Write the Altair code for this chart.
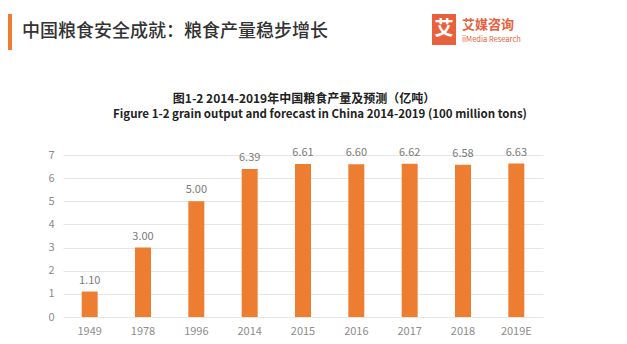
import altair as alt
import pandas as pd

years = ["1949", "1978", "1996", "2014", "2015", "2016", "2017", "2018", "2019E"]
output = [1.10, 3.00, 5.00, 6.39, 6.61, 6.60, 6.62, 6.58, 6.63]
y_ticks = [0, 1, 2, 3, 4, 5, 6, 7]

header = "中国粮食安全成就：粮食产量稳步增长"
title_cn = "图1-2 2014-2019年中国粮食产量及预测（亿吨）"
title_en = "Figure 1-2 grain output and forecast in China 2014-2019 (100 million tons)"
logo_char = "艾"
logo_cn = "艾媒咨询"
logo_en = "iiMedia Research"

ORANGE = "#ED7D31"
FONT = "Noto Sans CJK SC"

df = pd.DataFrame({"year": years, "value": output})

x_axis = alt.Axis(labelAngle=0, ticks=False, domain=False, labelColor="#8c8c8c",
                  labelFontSize=11, labelPadding=8, labelFont=FONT, grid=False)
y_axis = alt.Axis(values=y_ticks, tickCount=8, labelOverlap=False, ticks=False, domain=False,
                  labelColor="#8c8c8c", labelFontSize=11, labelPadding=9, labelFont=FONT,
                  gridColor="#e6e6e6", gridWidth=1)
x_scale = alt.Scale(paddingInner=0.7, paddingOuter=0.35)
y_scale = alt.Scale(domain=[0, 7], nice=False)

x = alt.X("year:N", sort=years, title=None, scale=x_scale, axis=x_axis)
y = alt.Y("value:Q", title=None, scale=y_scale, axis=y_axis)

base = alt.Chart(df)
bars = base.mark_bar(color=ORANGE).encode(x=x, y=y)
labels = base.mark_text(dy=-11, fontSize=11, color="#7a7a7a", font=FONT).encode(
    x=x, y=y, text=alt.Text("value:Q", format=".2f"))


def txt(s, xv, yv, size, color, weight="normal", align="left", font=FONT):
    return alt.Chart(pd.DataFrame({"t": [s]})).mark_text(
        align=align, baseline="middle", fontSize=size, color=color, fontWeight=weight, font=font
    ).encode(x=alt.value(xv), y=alt.value(yv), text="t:N")


def box(x1, x2, y1, y2, color):
    return alt.Chart(pd.DataFrame({"t": [0]})).mark_rect(color=color).encode(
        x=alt.value(x1), x2=alt.value(x2), y=alt.value(y1), y2=alt.value(y2))


LEFT, TOP = 63, 155
deco = [
    box(8 - LEFT, 12 - LEFT, 14 - TOP, 50 - TOP, ORANGE),
    txt(header, 22 - LEFT, 32 - TOP, 18, "#333333", 500),
    box(432 - LEFT, 456 - LEFT, 14 - TOP, 45 - TOP, "#E8603C"),
    txt(logo_char, 444 - LEFT, 29 - TOP, 19, "white", "bold", "center"),
    txt(logo_cn, 462 - LEFT, 25 - TOP, 13, "#E8603C", "bold"),
    txt(logo_en, 462 - LEFT, 40 - TOP, 7.5, "#E8603C", "normal"),
    txt(title_cn, 304 - LEFT, 99 - TOP, 12, "#222222", "bold", "center"),
    txt(title_en, 320 - LEFT, 115 - TOP, 11.5, "#222222", "bold", "center"),
]

chart = alt.layer(bars, labels, *deco).properties(
    width=480, height=162,
    autosize="none",
    padding={"left": LEFT, "top": TOP, "right": 627 - LEFT - 480, "bottom": 344 - TOP - 162},
    background="white",
).configure_view(stroke=None)

chart.save("out.html", embed_options={"renderer": "svg", "actions": False})
